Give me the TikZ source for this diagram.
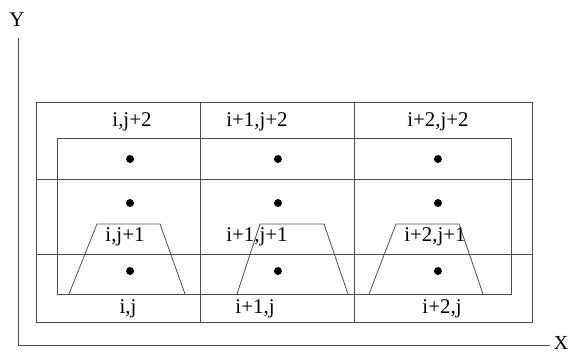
\documentclass[tikz,border=0pt]{standalone}
\usepackage{fontspec}
\setmainfont{Liberation Serif}
\begin{document}
\begin{tikzpicture}[x=1bp,y=-1bp,
  ln/.style={draw=black!70,line width=0.8bp},
  lbl/.style={font=\fontsize{21}{24}\selectfont,inner sep=0pt,text=black},
  dot/.style={fill=black,circle,inner sep=0pt,minimum size=8bp}]
\useasboundingbox (0,0) rectangle (572,354);
% axes
\draw[ln] (18,38) -- (18,345) -- (550,345);
\node[lbl] (ylab) at (17,20) {Y};
\node[lbl,font=\fontsize{20}{22}\selectfont] (xlab) at (561,343) {X};
% outer and inner rectangles
\draw[ln] (36,102) rectangle (532,322);
\draw[ln] (57,138) rectangle (511,294);
% grid lines
\draw[ln] (36,179) -- (532,179);
\draw[ln] (36,254) -- (532,254);
\draw[ln] (200,102) -- (200,322);
\draw[ln] (354,102) -- (354,322);
% trapezoids
\draw[ln] (69,294) -- (97,224) -- (160,224) -- (185,294);
\draw[ln] (237,294) -- (260,224) -- (324,224) -- (348,294);
\draw[ln] (369,294) -- (396,224) -- (459,224) -- (483,294);
% dots
\foreach \x/\n in {130/a,278/b,438/c}{
  \node[dot] (d1\n) at (\x,159) {};
  \node[dot] (d2\n) at (\x,203) {};
  \node[dot] (d3\n) at (\x,271) {};
}
% labels
\node[lbl] (t1) at (132,122) {i,j+2};
\node[lbl] (t2) at (257,122) {i+1,j+2};
\node[lbl] (t3) at (438,122) {i+2,j+2};
\node[lbl] (m1) at (125,237) {i,j+1};
\node[lbl] (m2) at (257,237) {i+1,j+1};
\node[lbl] (m3) at (435,237) {i+2,j+1};
\node[lbl] (b1) at (128,309) {i,j};
\node[lbl] (b2) at (255,309) {i+1,j};
\node[lbl] (b3) at (442,309) {i+2,j};
\end{tikzpicture}
\end{document}
